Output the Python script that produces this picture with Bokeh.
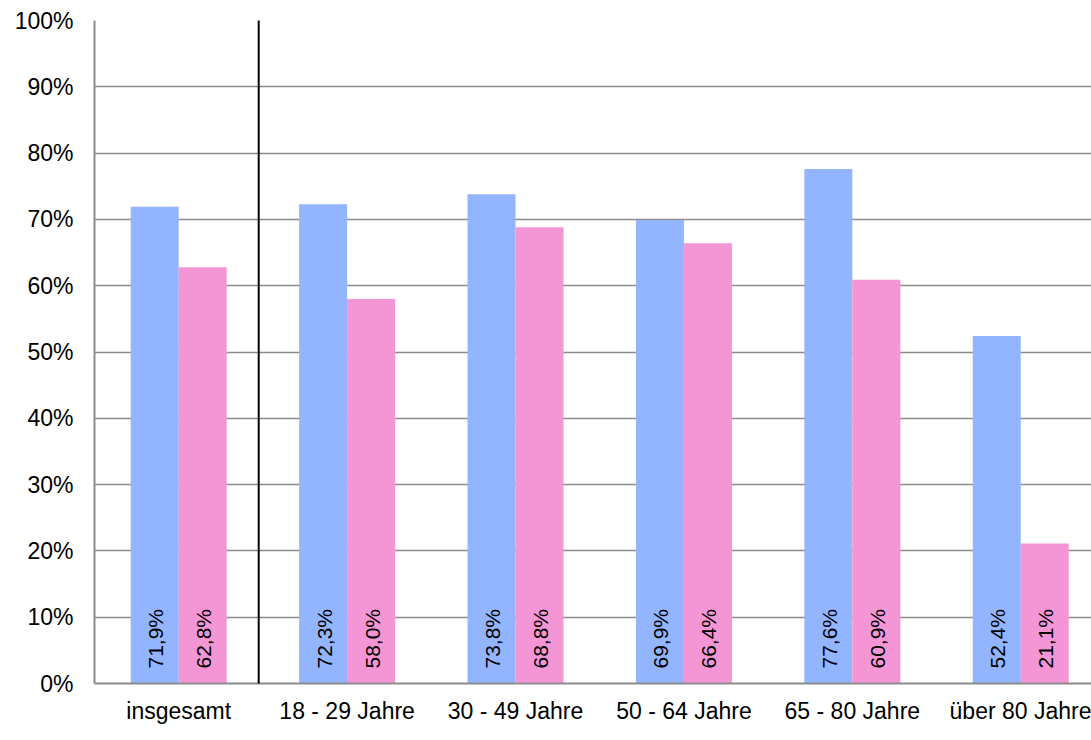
import numpy as np
from bokeh.plotting import figure
from bokeh.models import ColumnDataSource, Range1d, FixedTicker, Arrow
from bokeh.embed import file_html
from bokeh.resources import INLINE
from bokeh.core.properties import value
from bokeh.transform import dodge

# ---- data ----
groups = ["insgesamt", "18 - 29 Jahre", "30 - 49 Jahre", "50 - 64 Jahre",
          "65 - 80 Jahre", "über 80 Jahre"]
series_blue = [71.9, 72.3, 73.8, 69.9, 77.6, 52.4]
series_pink = [62.8, 58.0, 68.8, 66.4, 60.9, 21.1]
y_ticks = [0, 10, 20, 30, 40, 50, 60, 70, 80, 90, 100]
y_tick_labels = ["0%", "10%", "20%", "30%", "40%", "50%", "60%", "70%", "80%", "90%", "100%"]


def fmt(v):
    return f"{v:.1f}".replace(".", ",") + "%"


BLUE = "#93B5FF"
PINK = "#F496D5"
GRID = "#8C8C8C"
FONT = "Liberation Sans"
BAR_W = 0.285
SEP_X = 0.975

pos = [i + 0.5 for i in range(len(groups))]
src = ColumnDataSource(dict(
    x=pos,
    blue=series_blue,
    pink=series_pink,
    lblue=[fmt(v) for v in series_blue],
    lpink=[fmt(v) for v in series_pink],
    zero=[0] * len(groups),
))

p = figure(width=1091, height=740,
           x_range=Range1d(0, 5.92), y_range=Range1d(0, 100),
           output_backend="svg", toolbar_location=None,
           min_border_left=94, min_border_right=0,
           min_border_top=20, min_border_bottom=57)
p.outline_line_color = None
p.background_fill_color = "white"
p.border_fill_color = "white"

p.vbar(x=dodge("x", -BAR_W / 2), top="blue", bottom=0, width=BAR_W, source=src,
       fill_color=BLUE, line_color=None)
p.vbar(x=dodge("x", BAR_W / 2), top="pink", bottom=0, width=BAR_W, source=src,
       fill_color=PINK, line_color=None)

for col, off in (("lblue", -BAR_W / 2), ("lpink", BAR_W / 2)):
    p.text(x=dodge("x", off), y="zero", text=col, source=src,
           angle=np.pi / 2, text_align="left", text_baseline="middle",
           y_offset=-15, x_offset=1,
           text_font=value(FONT), text_font_size="21px", text_color="black")

# separator line
p.add_layout(Arrow(start=None, end=None, x_start=SEP_X, y_start=100.45,
                   x_end=SEP_X, y_end=-12, line_color="black", line_width=2))

# axes
p.xaxis.ticker = FixedTicker(ticks=pos)
p.xaxis.major_label_overrides = {x: g for x, g in zip(pos, groups)}
p.yaxis.ticker = FixedTicker(ticks=y_ticks)
p.yaxis.major_label_overrides = {t: l for t, l in zip(y_ticks, y_tick_labels)}
for ax in (p.xaxis, p.yaxis):
    ax.axis_line_color = GRID
    ax.axis_line_width = 2
    ax.major_tick_line_color = None
    ax.minor_tick_line_color = None
    ax.major_label_text_font = FONT
    ax.major_label_text_font_size = "23px"
    ax.major_label_text_color = "black"
p.xaxis.major_label_standoff = 8
p.yaxis.major_label_standoff = 15

p.xgrid.visible = False
p.ygrid.ticker = FixedTicker(ticks=y_ticks)
p.ygrid.grid_line_color = GRID
p.ygrid.grid_line_width = 1.6

open("out.html", "w").write(file_html(p, INLINE))
